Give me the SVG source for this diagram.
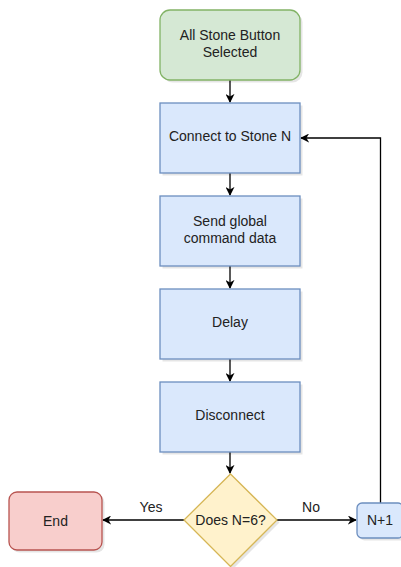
<svg xmlns="http://www.w3.org/2000/svg" width="401" height="567" viewBox="0 0 401 567">
  <style>
    .lbl { font-family: "Liberation Sans", Arial, sans-serif; font-size: 14px; fill: #222; text-anchor: middle; }
    .shadow { fill: #000; opacity: 0.1; }
    .green { fill: #d5e8d4; stroke: #82b366; stroke-width: 1.3; }
    .blue { fill: #dae8fc; stroke: #6c8ebf; stroke-width: 1.3; }
    .yellow { fill: #fff2cc; stroke: #d6b656; stroke-width: 1.3; }
    .red { fill: #f8cecc; stroke: #b85450; stroke-width: 1.3; }
    .edge { fill: none; stroke: #000; stroke-width: 1.3; }
  </style>
  <defs>
    <marker id="arrow" viewBox="0 0 10 10" refX="9" refY="5" markerWidth="9" markerHeight="9" markerUnits="userSpaceOnUse" orient="auto">
      <path d="M0,0 L10,5 L0,10 L3,5 Z" fill="#000"/>
    </marker>
  </defs>

  <g id="connectors">
    <path class="edge" d="M230,80 V102" marker-end="url(#arrow)"/>
    <path class="edge" d="M230,173 V195" marker-end="url(#arrow)"/>
    <path class="edge" d="M230,266 V288" marker-end="url(#arrow)"/>
    <path class="edge" d="M230,359 V381" marker-end="url(#arrow)"/>
    <path class="edge" d="M230,452 V473" marker-end="url(#arrow)"/>
    <path class="edge" d="M184,520 H103" marker-end="url(#arrow)"/>
    <path class="edge" d="M277,520 H356" marker-end="url(#arrow)"/>
    <path class="edge" d="M380.5,503 V138 H301" marker-end="url(#arrow)"/>
    <text class="lbl" x="151" y="512">Yes</text>
    <text class="lbl" x="311" y="512">No</text>
  </g>

  <g id="start">
    <rect class="shadow" x="162.5" y="12.5" width="140" height="70" rx="10"/>
    <rect class="green" x="160" y="10" width="140" height="70" rx="10"/>
    <text class="lbl" x="230" y="40">All Stone Button</text>
    <text class="lbl" x="230" y="57">Selected</text>
  </g>

  <g id="connect">
    <rect class="shadow" x="162.5" y="105.5" width="140" height="70"/>
    <rect class="blue" x="160" y="103" width="140" height="70"/>
    <text class="lbl" x="230" y="141">Connect to Stone N</text>
  </g>

  <g id="send">
    <rect class="shadow" x="162.5" y="198.5" width="140" height="70"/>
    <rect class="blue" x="160" y="196" width="140" height="70"/>
    <text class="lbl" x="230" y="226">Send global</text>
    <text class="lbl" x="230" y="243">command data</text>
  </g>

  <g id="delay">
    <rect class="shadow" x="162.5" y="291.5" width="140" height="70"/>
    <rect class="blue" x="160" y="289" width="140" height="70"/>
    <text class="lbl" x="230" y="327">Delay</text>
  </g>

  <g id="disconnect">
    <rect class="shadow" x="162.5" y="384.5" width="140" height="70"/>
    <rect class="blue" x="160" y="382" width="140" height="70"/>
    <text class="lbl" x="230" y="420">Disconnect</text>
  </g>

  <g id="decision">
    <path class="shadow" d="M233,476.5 L279.5,522.5 L233,569 L186.5,522.5 Z"/>
    <path class="yellow" d="M230.5,474 L277,520 L230.5,566.5 L184,520 Z"/>
    <text class="lbl" x="230.5" y="525">Does N=6?</text>
  </g>

  <g id="end">
    <rect class="shadow" x="11.5" y="494.5" width="93" height="58" rx="8"/>
    <rect class="red" x="9" y="492" width="93" height="58" rx="8"/>
    <text class="lbl" x="55.5" y="526">End</text>
  </g>

  <g id="increment">
    <rect class="shadow" x="359.5" y="505.5" width="46" height="35" rx="5"/>
    <rect class="blue" x="357" y="503" width="46" height="35" rx="5"/>
    <text class="lbl" x="380" y="525">N+1</text>
  </g>
</svg>
